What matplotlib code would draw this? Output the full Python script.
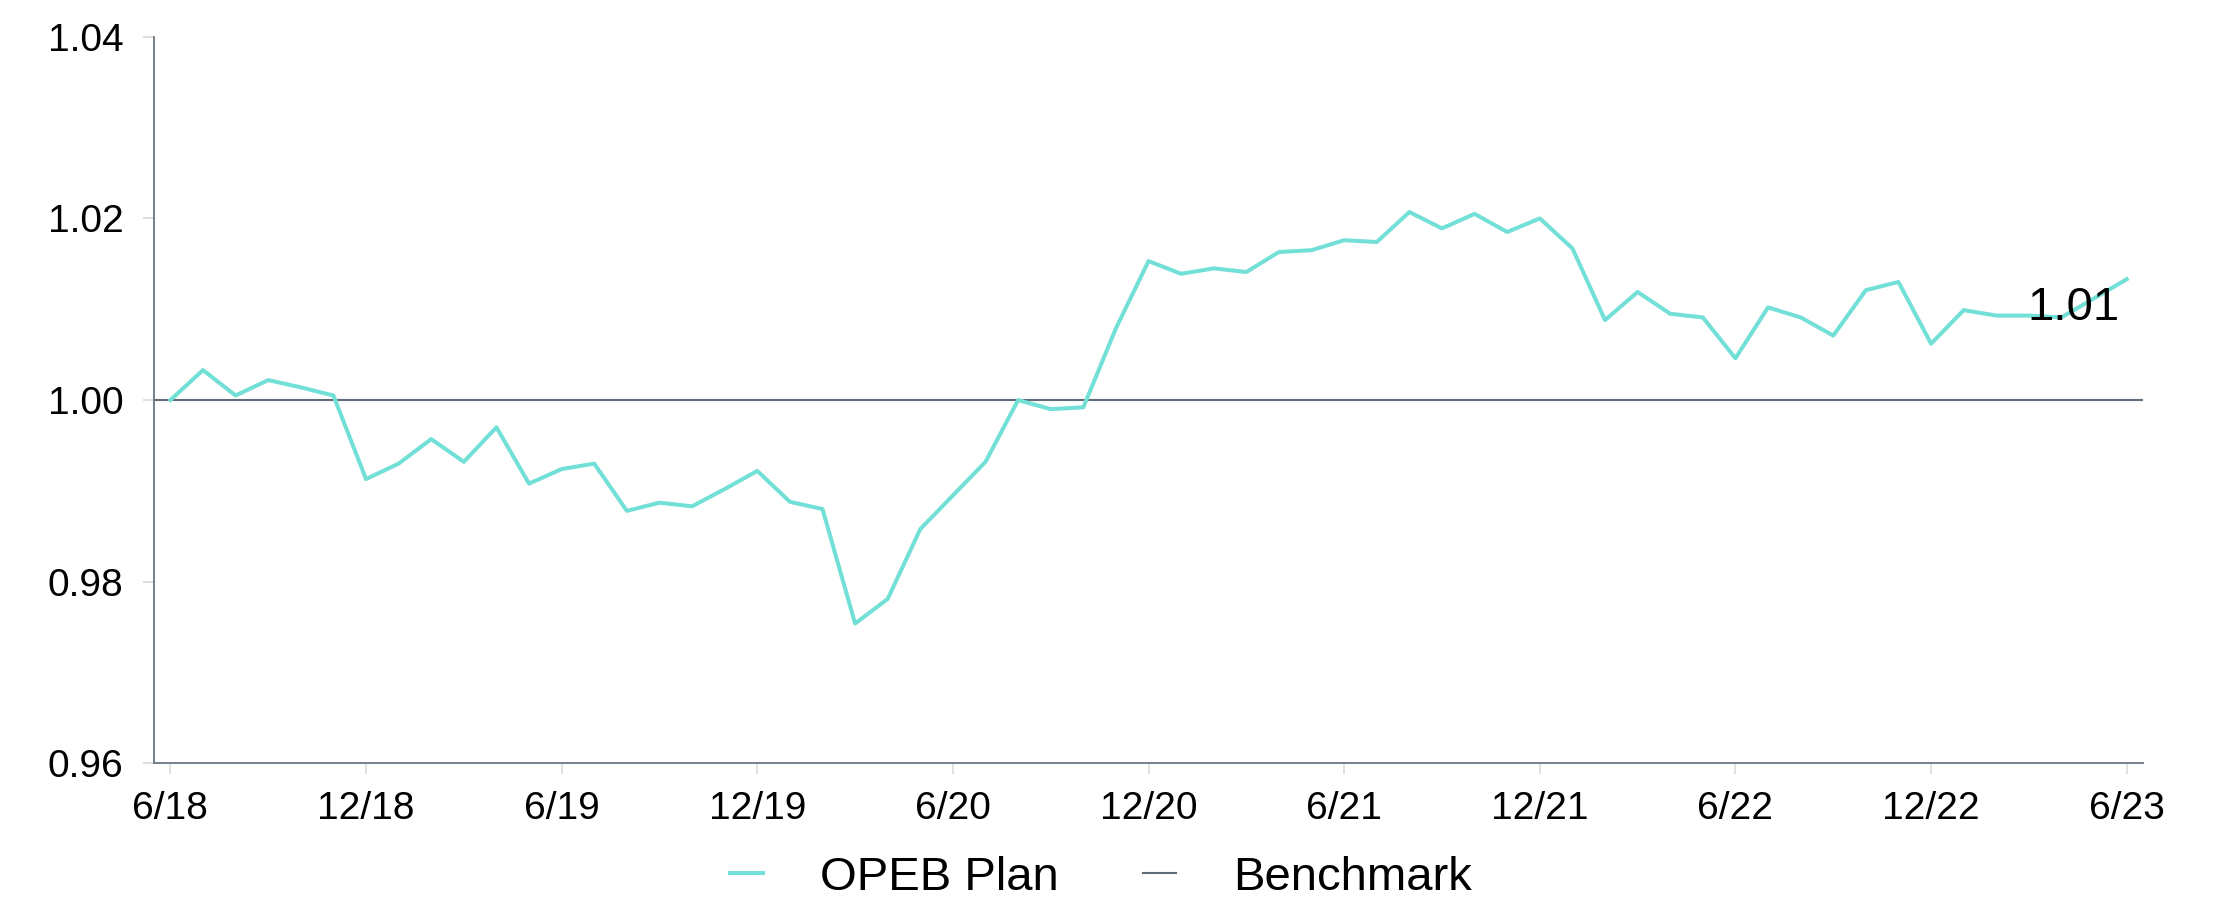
import matplotlib
matplotlib.use("Agg")
import matplotlib.pyplot as plt

# monthly growth of $1, 6/18 .. 6/23
opeb_plan = [
    1.0000, 1.0033, 1.0005, 1.0022, 1.0014, 1.0005, 0.9913, 0.9930, 0.9957, 0.9932,
    0.9970, 0.9908, 0.9924, 0.9930, 0.9878, 0.9887, 0.9883, 0.9902, 0.9922, 0.9888,
    0.9880, 0.9754, 0.9781, 0.9858, 0.9895, 0.9932, 1.0000, 0.9990, 0.9992, 1.0079,
    1.0153, 1.0139, 1.0145, 1.0141, 1.0163, 1.0165, 1.0176, 1.0174, 1.0207, 1.0189,
    1.0205, 1.0185, 1.0200, 1.0167, 1.0088, 1.0119, 1.0095, 1.0091, 1.0046, 1.0102,
    1.0091, 1.0071, 1.0121, 1.0130, 1.0062, 1.0099, 1.0093, 1.0093, 1.0091, 1.0112,
    1.0133,
]
benchmark = 1.00
tick_labels = ["6/18", "12/18", "6/19", "12/19", "6/20", "12/20",
               "6/21", "12/21", "6/22", "12/22", "6/23"]
y_ticks = [0.96, 0.98, 1.00, 1.02, 1.04]
end_label = "1.01"

plt.rcParams["font.family"] = ["Liberation Sans", "DejaVu Sans"]

plan_color = "#72e0d6"
bench_color = "#5f6b79"
spine_color = "#6b7684"
tick_color = "#d9d9d9"

fig = plt.figure(figsize=(22.33, 9.05), dpi=100)
ax = fig.add_axes([0.069, 0.1565, 0.8907, 0.8029])

x = list(range(len(opeb_plan)))
ax.plot(x, opeb_plan, color=plan_color, lw=2.9, label="OPEB Plan", zorder=3)
ax.axhline(benchmark, color=bench_color, lw=1.5, label="Benchmark", zorder=2)

ax.annotate(end_label, xy=(x[-1], opeb_plan[-1]), xytext=(-5, -21),
            textcoords="offset points", ha="right", va="center",
            fontsize=34, color="black", zorder=4)

ax.set_xlim(-0.5, len(opeb_plan) - 0.5)
ax.set_ylim(y_ticks[0], y_ticks[-1])
ax.set_xticks(x[::6])
ax.set_xticklabels(tick_labels)
ax.set_yticks(y_ticks)
ax.set_yticklabels([f"{v:.2f}" for v in y_ticks])

ax.tick_params(axis="both", labelsize=28, colors=tick_color, labelcolor="black",
               length=8, width=1.2, direction="out")
ax.tick_params(axis="x", pad=12)
ax.tick_params(axis="y", pad=14)

for side in ["top", "right"]:
    ax.spines[side].set_visible(False)
for side in ["left", "bottom"]:
    ax.spines[side].set_color(spine_color)
    ax.spines[side].set_linewidth(1.3)

fig.legend(loc="center", bbox_to_anchor=(0.493, 0.03), ncol=2, frameon=False,
           fontsize=34, handlelength=0.7, handletextpad=1.2, columnspacing=1.8)

fig.savefig("out.png", dpi=100)
